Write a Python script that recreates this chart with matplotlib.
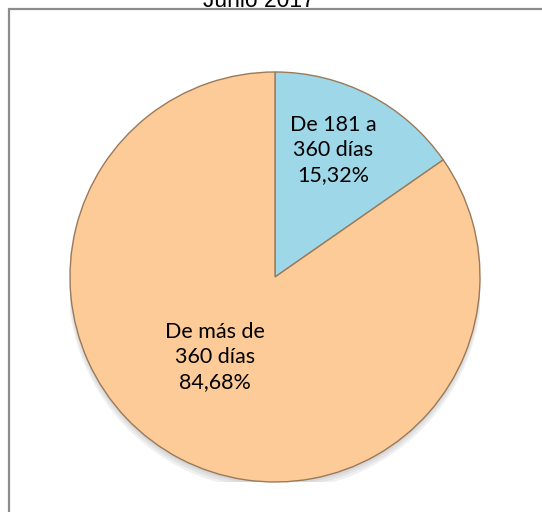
import matplotlib.pyplot as plt
from matplotlib.patches import Rectangle, Circle

# datos
categorias = ['De 181 a\n360 días', 'De más de\n360 días']
porcentajes = [15.32, 84.68]
colores = ['#9ed8e8', '#fdcb98']
titulo = 'Junio 2017'

W, H = 542, 512
fig = plt.figure(figsize=(W / 100, H / 100), dpi=100, facecolor='white')

# marco del área del gráfico
fig.patches.append(Rectangle((8.5 / W, -0.1), 1.2, (H - 8.5) / H + 0.1,
                             transform=fig.transFigure, fill=False,
                             edgecolor='#8c8c8c', linewidth=1.6))

fig.text(259 / W, 1 - 7 / H, titulo, ha='center', va='baseline',
         fontsize=16.5, family=['Liberation Sans', 'DejaVu Sans'], color='black')

cx, cy, r = 275, 277, 205
ax = fig.add_axes([(cx - r) / W, 1 - (cy + r) / H, 2 * r / W, 2 * r / H])

# sombra suave
for i, a in enumerate([0.05, 0.05, 0.06]):
    ax.add_patch(Circle((0.0, -0.015 - 0.008 * i), 1.0 + 0.005 * i,
                        color='black', alpha=a, zorder=0, lw=0))

wedges, _ = ax.pie(porcentajes, colors=colores, startangle=90, counterclock=False,
                   radius=1.0, wedgeprops=dict(edgecolor='#9a7a5a', linewidth=1.0))
for w in wedges:
    w.set_zorder(2)

ax.set_xlim(-1, 1)
ax.set_ylim(-1, 1)
ax.set_aspect('equal')
ax.axis('off')

fuente = ['Lato', 'DejaVu Sans']
etiquetas = [f'{c}\n{p:.2f}%'.replace('.', ',') for c, p in zip(categorias, porcentajes)]
posiciones = [(333, 150), (215, 357)]
for txt, (px, py) in zip(etiquetas, posiciones):
    fig.text(px / W, 1 - py / H, txt, ha='center', va='center', fontsize=15.5,
             family=fuente, color='black', linespacing=1.3, zorder=5)

fig.savefig('out.png', dpi=100, facecolor='white')
